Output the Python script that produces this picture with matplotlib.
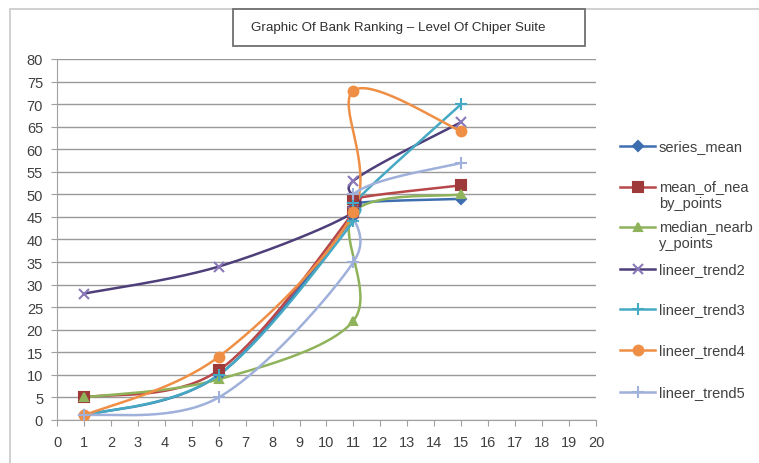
import numpy as np
import matplotlib.pyplot as plt
from matplotlib.lines import Line2D
from matplotlib.patches import Rectangle

plt.rcParams['font.family'] = ['Liberation Sans', 'DejaVu Sans']

# every series is sampled at the same x positions (11 appears twice)
x_vals = [1, 6, 11, 11, 15]

series_mean = [1, 10, 45, 48, 49]
mean_of_nearby_points = [5, 11, 46, 49, 52]
median_nearby_points = [5, 9, 22, 46, 50]
lineer_trend2 = [28, 34, 46, 53, 66]
lineer_trend3 = [1, 10, 44, 48, 70]
lineer_trend4 = [1, 14, 46, 73, 64]
lineer_trend5 = [1, 5, 35, 50, 57]

names = ['series_mean', 'mean_of_nea\nby_points', 'median_nearb\ny_points',
         'lineer_trend2', 'lineer_trend3', 'lineer_trend4', 'lineer_trend5']
values = [series_mean, mean_of_nearby_points, median_nearby_points,
          lineer_trend2, lineer_trend3, lineer_trend4, lineer_trend5]
colors = ['#3d6fb0', '#b8474a', '#8fb35a', '#4e3f7a', '#45a9c4', '#ef8f45', '#9fb0da']
mcolors = ['#3d6fb0', '#9e3a3a', '#8fb35a', '#8a78b8', '#45a9c4', '#ef8f45', '#9fb0da']
markers = ['D', 's', '^', 'x', '+', 'o', '+']
msizes = [5, 7, 6, 7, 8, 7, 8]


def smooth(xs, ys, n=40):
    # catmull-rom style bezier smoothing like spreadsheet "smoothed line"
    p = np.column_stack([xs, ys]).astype(float)
    p = np.vstack([p[0], p, p[-1]])
    out = []
    for i in range(1, len(p) - 2):
        p0, p1, p2, p3 = p[i - 1], p[i], p[i + 1], p[i + 2]
        c1 = p1 + (p2 - p0) / 6
        c2 = p2 - (p3 - p1) / 6
        t = np.linspace(0, 1, n)[:, None]
        seg = ((1 - t) ** 3 * p1 + 3 * (1 - t) ** 2 * t * c1
               + 3 * (1 - t) * t ** 2 * c2 + t ** 3 * p2)
        out.append(seg)
    out = np.vstack(out)
    return out[:, 0], out[:, 1]


W, H = 759, 464
fig = plt.figure(figsize=(W / 100, H / 100), dpi=100)
fig.add_artist(Rectangle((10 / W, -0.01), 1.0, 1 - 10 / H + 0.01, transform=fig.transFigure,
                         fill=False, edgecolor='#c8c8c8', lw=1.2))
ax = fig.add_axes([0.0751, 0.0927, 0.7101, 0.778])

for ys, c, mc, m, ms in zip(values, colors, mcolors, markers, msizes):
    sx, sy = smooth(x_vals, ys)
    ax.plot(sx, sy, color=c, lw=1.8, zorder=3)
    ax.plot(x_vals, ys, ls='none', marker=m, color=mc, ms=ms, mew=1.5, zorder=4)

ax.set_xlim(0, 20)
ax.set_ylim(0, 80)
ax.set_xticks(range(0, 21))
ax.set_yticks(range(0, 81, 5))
ax.grid(axis='y', color='#999999', lw=1.0)
ax.set_axisbelow(True)
for s in ['top', 'right']:
    ax.spines[s].set_visible(False)
for s in ['left', 'bottom']:
    ax.spines[s].set_color('#a0a0a0')
ax.tick_params(colors='#a0a0a0', labelcolor='#404040', labelsize=10.5, length=4)
ax.tick_params(axis='x', pad=7)
ax.tick_params(axis='y', pad=6)

# title box
fig.add_artist(Rectangle((233 / W, 1 - 47 / H), 352 / W, 37 / H, transform=fig.transFigure,
                         fc='white', ec='#707070', lw=1.3, zorder=5))
fig.text(398 / W, 1 - 28 / H, 'Graphic Of Bank Ranking \u2013 Level Of Chiper Suite',
         ha='center', va='center', fontsize=9.6, color='#303030', zorder=6)

# legend drawn by hand so long labels run off the right edge
leg_y = [147, 188, 228, 270, 310, 351, 393]
for y, name, c, mc, m, ms in zip(leg_y, names, colors, mcolors, markers, msizes):
    fy = 1 - y / H
    fig.add_artist(Line2D([620 / W, 655 / W], [fy, fy], color=c, lw=1.8,
                          transform=fig.transFigure))
    fig.add_artist(Line2D([637.5 / W], [fy], marker=m, color=mc, ms=ms, mew=1.5,
                          transform=fig.transFigure))
    if '\n' in name:
        fig.text(659 / W, fy + 8 / H, name, ha='left', va='top',
                 fontsize=10.5, color='#404040', linespacing=1.3)
    else:
        fig.text(659 / W, fy, name, ha='left', va='center',
                 fontsize=10.5, color='#404040')

fig.savefig('out.png', dpi=100)
